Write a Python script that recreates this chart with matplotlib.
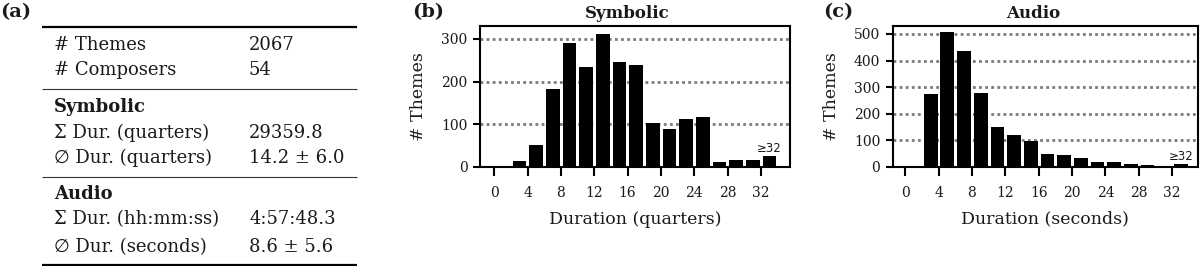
import matplotlib
matplotlib.use("Agg")
import matplotlib.pyplot as plt
import numpy as np

# ---------------- data ----------------
bin_starts = [0, 2, 4, 6, 8, 10, 12, 14, 16, 18, 20, 22, 24, 26, 28, 30, 32]
symbolic_counts = [0, 14, 51, 182, 290, 235, 312, 246, 239, 103, 88, 112, 118, 12, 16, 16, 25]
audio_counts = [0, 273, 506, 436, 280, 150, 119, 97, 48, 44, 33, 20, 20, 11, 6, 1, 11]
xticks = [0, 4, 8, 12, 16, 20, 24, 28, 32]
sym_yticks = [0, 100, 200, 300]
aud_yticks = [0, 100, 200, 300, 400, 500]

table_rows = [
    ("# Themes", "2067", False),
    ("# Composers", "54", False),
    ("Symbolic", "", True),
    ("\u03A3 Dur. (quarters)", "29359.8", False),
    ("\u2205 Dur. (quarters)", "14.2 \u00B1 6.0", False),
    ("Audio", "", True),
    ("\u03A3 Dur. (hh:mm:ss)", "4:57:48.3", False),
    ("\u2205 Dur. (seconds)", "8.6 \u00B1 5.6", False),
]

SERIF = ["DejaVu Serif", "DejaVu Sans"]
plt.rcParams["font.family"] = SERIF
TXT = "#1a1a1a"

fig = plt.figure(figsize=(12, 2.66), dpi=100)
W, H = 1200, 266


def fx(px):
    return px / W


def fy(py):
    return 1 - py / H


# ---------------- (a) table ----------------
axt = fig.add_axes([0, 0, 420 / W, 1])
axt.set_xlim(0, 420)
axt.set_ylim(H, 0)
axt.axis("off")
axt.text(0, 12, "(a)", fontsize=14, fontweight="bold", va="center", ha="left", color=TXT)
row_y = [45, 70, 106.7, 133.3, 157.7, 194, 219.3, 246.7]
for (lab, val, bold), y in zip(table_rows, row_y):
    axt.text(54, y, lab, fontsize=13, va="center", ha="left", color=TXT,
             fontweight="bold" if bold else "normal")
    if val:
        axt.text(249, y, val, fontsize=13, va="center", ha="left", color=TXT)
axt.plot([42, 357], [26.7, 26.7], color="black", lw=1.6, solid_capstyle="butt")
axt.plot([42, 357], [88.7, 88.7], color="#333333", lw=0.8, solid_capstyle="butt")
axt.plot([42, 357], [177.3, 177.3], color="#333333", lw=0.8, solid_capstyle="butt")
axt.plot([42, 357], [264.5, 264.5], color="black", lw=1.6, solid_capstyle="butt")


# ---------------- histograms ----------------
def hist_panel(left, right, counts, yticks, ylim, xlim, title, title_x, xlabel, panel, panel_x):
    ax = fig.add_axes([fx(left), fy(167), fx(right - left), (167 - 26) / H])
    centers = np.array(bin_starts) + 1.05
    ax.bar(centers, counts, width=1.65, color="black", zorder=3)
    ax.set_xlim(*xlim)
    ax.set_ylim(*ylim)
    ax.set_xticks(xticks)
    ax.set_yticks(yticks)
    ax.tick_params(axis="x", direction="out", length=6.5, width=1.5, pad=7,
                   labelsize=10, colors="black", labelcolor=TXT)
    ax.tick_params(axis="y", direction="out", length=5, width=1.5, pad=4,
                   labelsize=10, colors="black", labelcolor=TXT)
    for s in ax.spines.values():
        s.set_linewidth(1.5)
    for yt in yticks[1:]:
        ax.axhline(yt, color="#7a7a7a", lw=2, ls=(0, (1, 1.2)), zorder=1)
    fig.text(fx(title_x), fy(13), title, fontsize=12, fontweight="bold",
             ha="center", va="center", color=TXT)
    ax.set_xlabel(xlabel, fontsize=12.5, color=TXT, labelpad=8)
    ax.set_ylabel("# Themes", fontsize=12.5, color=TXT, labelpad=10)
    ax.text(bin_starts[-1] + 1.05, counts[-1] + 4, "\u226532", fontsize=8.5,
            family="DejaVu Sans", ha="center", va="bottom", color=TXT, zorder=4)
    fig.text(fx(panel_x), fy(12), panel, fontsize=14, fontweight="bold",
             va="center", ha="left", color=TXT)
    return ax


hist_panel(480, 790, symbolic_counts, sym_yticks, (0, 330), (-1.7, 35.5),
           "Symbolic", 627.5, "Duration (quarters)", "(b)", 412)
hist_panel(892.7, 1198, audio_counts, aud_yticks, (0, 530), (-1.5, 35.1),
           "Audio", 1033, "Duration (seconds)", "(c)", 823)

fig.savefig("out.png", dpi=100)
